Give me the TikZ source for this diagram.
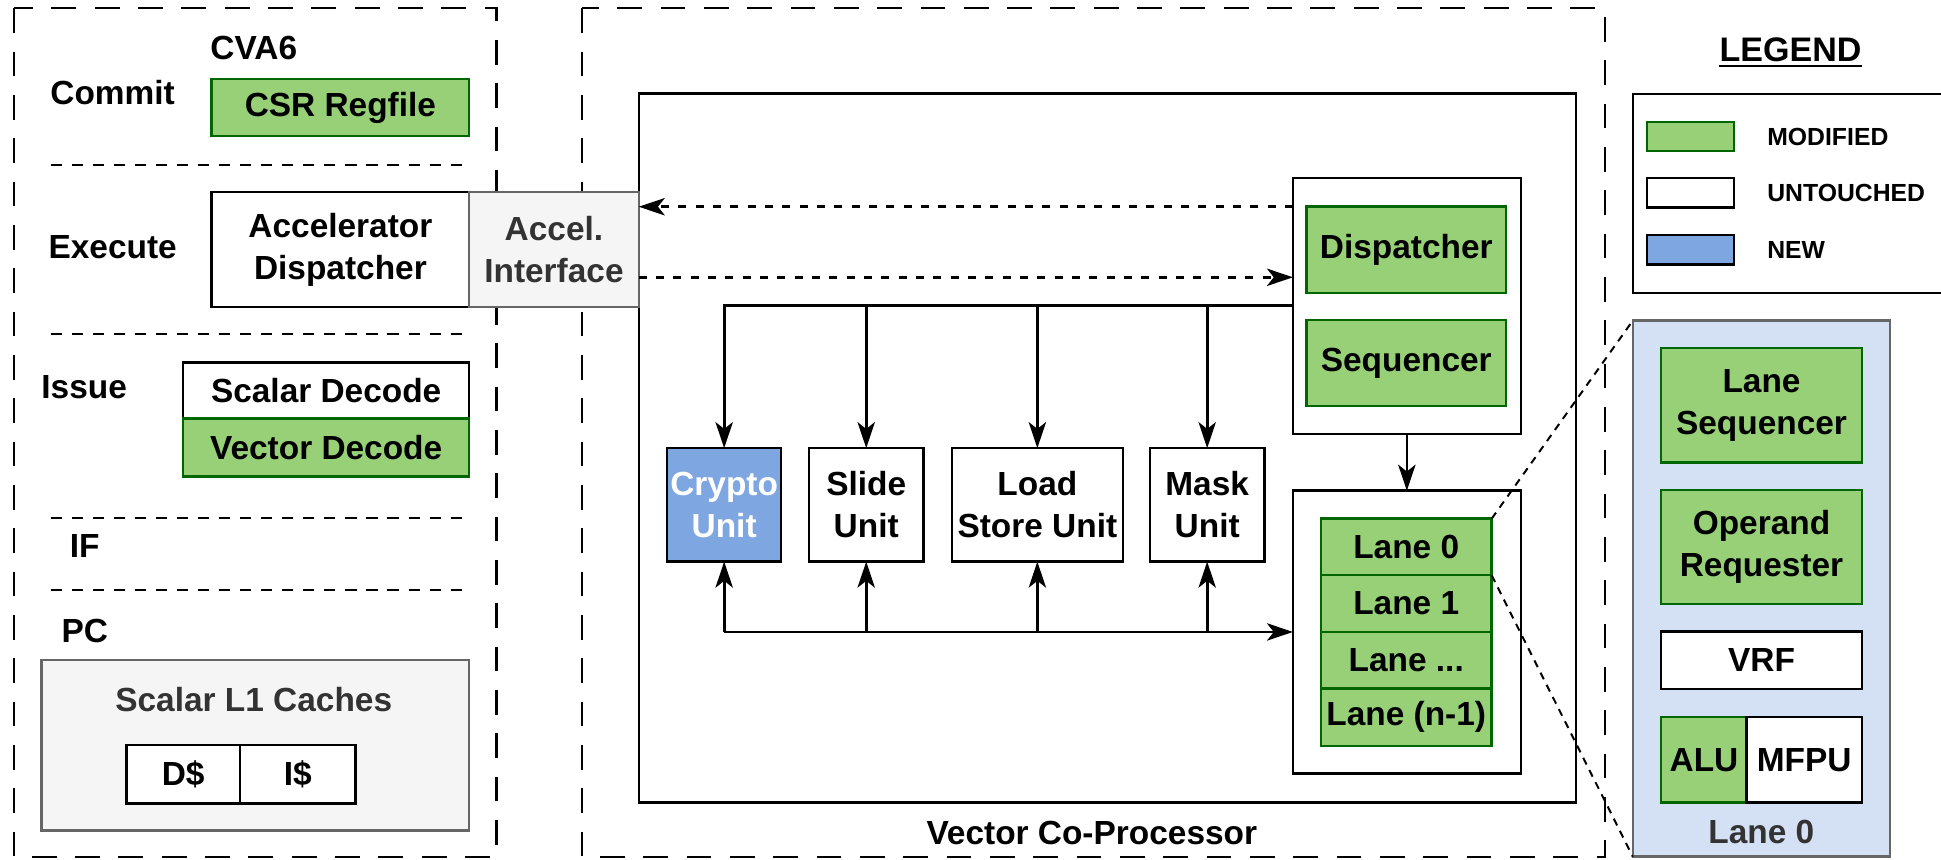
\documentclass[tikz,border=0pt]{standalone}
\usepackage{fontspec}
\setmainfont{Liberation Sans}
\usetikzlibrary{arrows.meta}

\definecolor{modfill}{HTML}{97D077}
\definecolor{modline}{HTML}{006600}
\definecolor{newfill}{HTML}{7EA6E0}
\definecolor{lanebg}{HTML}{D4E1F5}
\definecolor{greyfill}{HTML}{F5F5F5}
\definecolor{greyline}{HTML}{666666}
\definecolor{greytext}{HTML}{333333}

\newcommand{\bigtxt}{\bfseries\fontsize{27}{34}\selectfont}
\newcommand{\legtxt}{\bfseries\fontsize{20}{24}\selectfont}

% box given by its two corners: name, style, x1, y1, x2, y2, text
\newcommand{\cbox}[7]{%
  \node[#2, minimum width={(#5)-(#3)}, minimum height={(#6)-(#4)}]
    (#1) at ({((#3)+(#5))/2},{((#4)+(#6))/2}) {#7};}

\begin{document}
\begin{tikzpicture}[x=1pt,y=-1pt,
  blk/.style={draw=black, line width=2pt, fill=white, inner sep=0pt,
    outer sep=0pt, align=center, font=\bigtxt},
  modblk/.style={blk, draw=modline, fill=modfill},
  newblk/.style={blk, fill=newfill, text=white},
  greyblk/.style={blk, draw=greyline, fill=greyfill, text=greytext},
  emptyblk/.style={blk},
  lanedetail/.style={blk, draw=greyline, fill=lanebg},
  lbl/.style={inner sep=0pt, font=\bigtxt},
  leglbl/.style={inner sep=0pt, anchor=west, font=\legtxt},
  region/.style={draw=black, line width=1.8pt, dash pattern=on 20pt off 15pt},
  stage/.style={draw=black, line width=1.8pt, dash pattern=on 9pt off 8pt},
  tip/.style={-{Stealth[length=21pt, width=14pt, inset=5.5pt]}},
  link/.style={tip, draw=black, line width=2.2pt},
  dotlink/.style={tip, draw=black, line width=2.2pt, dash pattern=on 6.5pt off 7.5pt},
  zoomline/.style={draw=black, line width=1.6pt, dash pattern=on 6pt off 5pt},
]
\useasboundingbox (0,0) rectangle (1568,694);
\fill[white] (0,0) rectangle (1568,694);

% ---------- CVA6 scalar core ----------
\draw[region] (11,6.7) rectangle (401,692);
\node[lbl] (cva6) at (205,38.5) {CVA6};
\node[lbl] (commit) at (91,74.5) {Commit};
\node[lbl] (execute) at (91,200) {Execute};
\node[lbl] (issue) at (68,312.6) {Issue};
\node[lbl] (ifst) at (68.5,441) {IF};
\node[lbl] (pc) at (68.5,510) {PC};
\draw[stage] (41,133) -- (378,133);
\draw[stage] (41,270) -- (378,270);
\draw[stage] (41,418.5) -- (378,418.5);
\draw[stage] (41,476.6) -- (378,476.6);

% ---------- Vector co-processor region ----------
\draw[region] (470,6.7) rectangle (1296.5,692);
\cbox{vcp}{emptyblk}{516}{75.5}{1273}{648.4}{}
\node[lbl] (vcptitle) at (882,672.6) {Vector Co-Processor};

\cbox{csr}{modblk}{171}{64}{379}{110}{CSR Regfile}
\cbox{accdisp}{blk}{171}{155}{379}{248}{Accelerator\\Dispatcher}
\cbox{accif}{greyblk}{379}{155}{516}{248}{Accel.\\Interface}
\cbox{sdec}{blk}{148}{293}{379}{338}{Scalar Decode}
\cbox{vdec}{modblk}{148}{338}{379}{385}{Vector Decode}

\cbox{l1}{greyblk}{33.5}{533}{379}{671}{}
\node[lbl, text=greytext] (l1title) at (205,565) {Scalar L1 Caches};
\cbox{dcache}{blk}{102}{602}{194}{649}{D\$}
\cbox{icache}{blk}{194}{602}{287}{649}{I\$}

% dispatcher / sequencer
\cbox{dispbox}{emptyblk}{1044.5}{144}{1228.5}{350.6}{}
\cbox{disp}{modblk}{1055.5}{167}{1216.5}{236.5}{Dispatcher}
\cbox{seq}{modblk}{1055.5}{258.5}{1216.5}{328}{Sequencer}

% lanes
\cbox{lanebox}{emptyblk}{1044.5}{396.4}{1228.5}{625}{}
\cbox{lane0}{modblk}{1067}{419}{1205}{464.7}{Lane 0}
\cbox{lane1}{modblk}{1067}{464.7}{1205}{510.5}{Lane 1}
\cbox{lanex}{modblk}{1067}{510.5}{1205}{556.3}{Lane ...}
\cbox{lanen}{modblk}{1067}{556.3}{1205}{602.6}{Lane (n-1)}

% functional units
\cbox{crypto}{newblk}{539}{362}{631}{453.7}{Crypto\\Unit}
\cbox{slide}{blk}{653.5}{362}{746}{453.7}{Slide\\Unit}
\cbox{ldst}{blk}{769}{362}{907}{453.7}{Load\\Store Unit}
\cbox{mask}{blk}{929}{362}{1021.4}{453.7}{Mask\\Unit}

% interface handshake
\draw[dotlink] (dispbox.west |- disp.north) -- (accif.east |- disp.north);
\draw[dotlink] (accif.east |- 0,224) -- (dispbox.west |- 0,224);

% dispatch bus to the units
\draw[link] (dispbox.west |- 0,247) -| (crypto.north);
\draw[link] (slide.north |- 0,247) -- (slide.north);
\draw[link] (ldst.north |- 0,247) -- (ldst.north);
\draw[link] (mask.north |- 0,247) -- (mask.north);

% result bus between units and lanes
\draw[link] (crypto.south |- 0,510.5) -- (lanebox.west |- 0,510.5);
\draw[link] (crypto.south |- 0,510.5) -- (crypto.south);
\draw[link] (slide.south |- 0,510.5) -- (slide.south);
\draw[link] (ldst.south |- 0,510.5) -- (ldst.south);
\draw[link] (mask.south |- 0,510.5) -- (mask.south);

\draw[link] (dispbox.south) -- (lanebox.north);

% ---------- legend ----------
\node[inner sep=0pt, font=\bfseries\fontsize{27.5}{33}\selectfont] (legtitle) at (1446.5,40.5) {LEGEND};
\draw[line width=2pt] ([yshift=-3.5pt]legtitle.base west) -- ([yshift=-3.5pt]legtitle.base east);
\draw[line width=2pt] (1568,76) -- (1319,76) -- (1319,236.6) -- (1568,236.6);
\cbox{swmod}{modblk}{1330.5}{98.5}{1400.6}{122}{}
\cbox{swold}{blk}{1330.5}{144}{1400.6}{167.5}{}
\cbox{swnew}{newblk}{1330.5}{190}{1400.6}{213.5}{}
\node[leglbl] (lgmod) at (1427.5,110.3) {MODIFIED};
\node[leglbl] (lgold) at (1427.5,155.8) {UNTOUCHED};
\node[leglbl] (lgnew) at (1427.5,201.8) {NEW};

% ---------- lane 0 detail ----------
\cbox{lane0d}{lanedetail}{1319}{259}{1526.6}{692}{}
\cbox{lseq}{modblk}{1342}{281}{1504}{373.7}{Lane\\Sequencer}
\cbox{opreq}{modblk}{1342}{396}{1504}{488}{Operand\\Requester}
\cbox{vrf}{blk}{1342}{510}{1504}{556.5}{VRF}
\cbox{alu}{modblk}{1342}{579}{1411}{648.4}{ALU}
\cbox{mfpu}{blk}{1411}{579}{1504}{648.4}{MFPU}
\node[lbl, text=greytext] (lane0title) at (1422.8,672) {Lane 0};

\draw[zoomline] (lane0.north east) -- (lane0d.north west);
\draw[zoomline] (lane0.south east) -- (lane0d.south west);
\end{tikzpicture}
\end{document}
